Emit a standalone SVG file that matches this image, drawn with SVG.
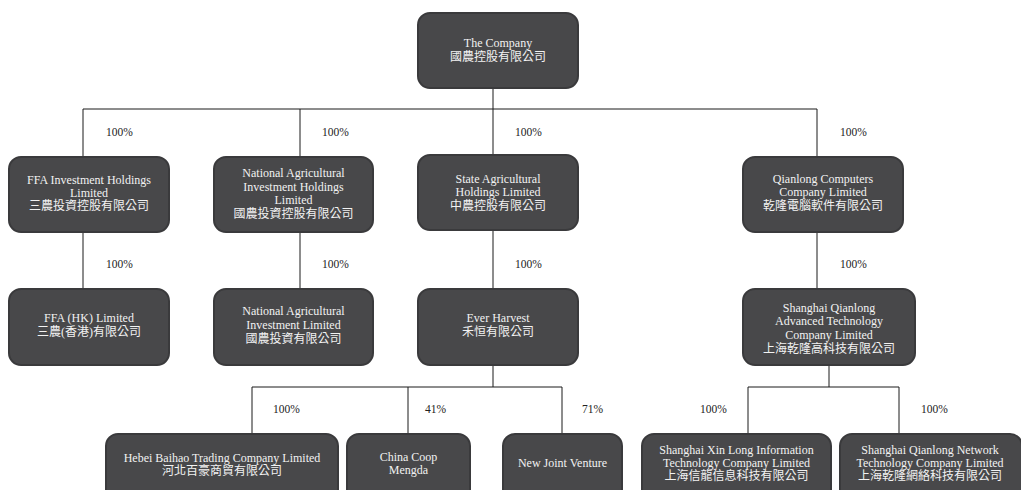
<svg xmlns="http://www.w3.org/2000/svg" width="1021" height="490" viewBox="0 0 1021 490">
<style>
.box{fill:#48484a;stroke:#3a3a3c;stroke-width:2}
.t{font-family:"Liberation Serif","Noto Sans CJK TC",serif;font-size:12px;fill:#f2f2f2;text-anchor:middle}
.p{font-family:"Liberation Serif",serif;font-size:11.5px;fill:#222}
.c{stroke:#1a1a1a;stroke-width:1;fill:none}
</style>
<rect width="1021" height="490" fill="#ffffff"/>
<g id="connectors">
<path class="c" d="M493 88V155M83 109H817M83 109V157M300 109V157M817 109V157"/>
<path class="c" d="M83 232V289M300 232V289M493 230V289M817 232V289"/>
<path class="c" d="M493 365V387M252 387H562M252 387V434M408 387V434M562 387V434"/>
<path class="c" d="M829 365V387M748 387H899M748 387V434M899 387V434"/>
<text class="p" x="106" y="136">100%</text>
<text class="p" x="322" y="136">100%</text>
<text class="p" x="515" y="136">100%</text>
<text class="p" x="840" y="136">100%</text>
<text class="p" x="106" y="268">100%</text>
<text class="p" x="322" y="268">100%</text>
<text class="p" x="515" y="268">100%</text>
<text class="p" x="840" y="268">100%</text>
<text class="p" x="273" y="413">100%</text>
<text class="p" x="425" y="413">41%</text>
<text class="p" x="582" y="413">71%</text>
<text class="p" x="700" y="413">100%</text>
<text class="p" x="921" y="413">100%</text>
</g>
<g id="company"><rect class="box" x="418" y="13" width="160" height="75" rx="12"/>
<text class="t" x="498" y="47">The Company</text><text class="t" x="498" y="61">國農控股有限公司</text></g>
<g id="ffa"><rect class="box" x="9" y="157" width="160" height="75" rx="12"/>
<text class="t" x="89" y="184">FFA Investment Holdings</text><text class="t" x="89" y="197">Limited</text><text class="t" x="89" y="210">三農投資控股有限公司</text></g>
<g id="nat-hold"><rect class="box" x="214" y="157" width="159" height="75" rx="12"/>
<text class="t" x="293.5" y="177">National Agricultural</text><text class="t" x="293.5" y="191">Investment Holdings</text><text class="t" x="293.5" y="204">Limited</text><text class="t" x="293.5" y="218">國農投資控股有限公司</text></g>
<g id="state"><rect class="box" x="418" y="155" width="160" height="75" rx="12"/>
<text class="t" x="498" y="183">State Agricultural</text><text class="t" x="498" y="196">Holdings Limited</text><text class="t" x="498" y="210">中農控股有限公司</text></g>
<g id="qianlong"><rect class="box" x="743" y="157" width="160" height="75" rx="12"/>
<text class="t" x="823" y="183">Qianlong Computers</text><text class="t" x="823" y="196">Company Limited</text><text class="t" x="823" y="210">乾隆電腦軟件有限公司</text></g>
<g id="ffa-hk"><rect class="box" x="9" y="289" width="160" height="76" rx="12"/>
<text class="t" x="89" y="322">FFA (HK) Limited</text><text class="t" x="89" y="336">三農(香港)有限公司</text></g>
<g id="nat-inv"><rect class="box" x="214" y="289" width="159" height="76" rx="12"/>
<text class="t" x="293.5" y="315">National Agricultural</text><text class="t" x="293.5" y="329">Investment Limited</text><text class="t" x="293.5" y="343">國農投資有限公司</text></g>
<g id="ever"><rect class="box" x="418" y="289" width="160" height="76" rx="12"/>
<text class="t" x="498" y="322">Ever Harvest</text><text class="t" x="498" y="336">禾恒有限公司</text></g>
<g id="sh-adv"><rect class="box" x="743" y="289" width="172" height="76" rx="12"/>
<text class="t" x="829" y="312">Shanghai Qianlong</text><text class="t" x="829" y="325">Advanced Technology</text><text class="t" x="829" y="339">Company Limited</text><text class="t" x="829" y="353">上海乾隆高科技有限公司</text></g>
<g id="hebei"><rect class="box" x="106" y="434" width="232" height="70" rx="12"/>
<text class="t" x="222" y="462">Hebei Baihao Trading Company Limited</text><text class="t" x="222" y="475">河北百豪商貿有限公司</text></g>
<g id="china-coop"><rect class="box" x="347" y="434" width="123" height="70" rx="12"/>
<text class="t" x="408.5" y="461">China Coop</text><text class="t" x="408.5" y="474">Mengda</text></g>
<g id="new-jv"><rect class="box" x="503" y="434" width="119" height="70" rx="12"/>
<text class="t" x="562.5" y="467">New Joint Venture</text></g>
<g id="xin-long"><rect class="box" x="642" y="434" width="189" height="70" rx="12"/>
<text class="t" x="736.5" y="454">Shanghai Xin Long Information</text><text class="t" x="736.5" y="467">Technology Company Limited</text><text class="t" x="736.5" y="480">上海信龍信息科技有限公司</text></g>
<g id="network"><rect class="box" x="840" y="434" width="182" height="70" rx="12"/>
<text class="t" x="930" y="454">Shanghai Qianlong Network</text><text class="t" x="930" y="467">Technology Company Limited</text><text class="t" x="930" y="480">上海乾隆網絡科技有限公司</text></g>
</svg>
